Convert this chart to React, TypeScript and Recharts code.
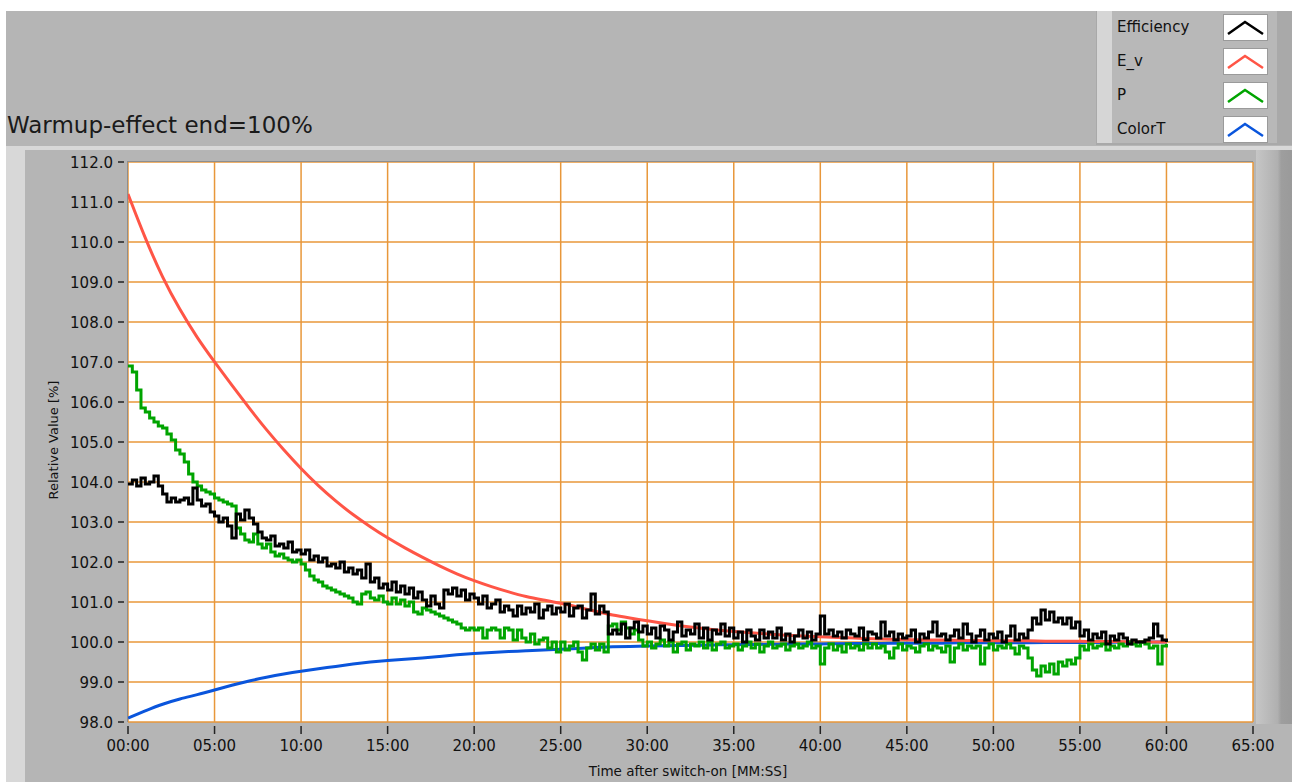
import React from "react";
import { CartesianGrid, Line, LineChart, XAxis, YAxis } from "recharts";

const FONT = "'DejaVu Sans', sans-serif";

const xTicks = [0, 5, 10, 15, 20, 25, 30, 35, 40, 45, 50, 55, 60, 65];
const xTickLabels = [
  "00:00", "05:00", "10:00", "15:00", "20:00", "25:00", "30:00",
  "35:00", "40:00", "45:00", "50:00", "55:00", "60:00", "65:00",
];
const yTicks = [98, 99, 100, 101, 102, 103, 104, 105, 106, 107, 108, 109, 110, 111, 112];

// one reading per minute, 0..60
const minuteTimes = [
  0, 1, 2, 3, 4, 5, 6, 7, 8, 9, 10, 11, 12, 13, 14, 15, 16, 17, 18, 19, 20,
  21, 22, 23, 24, 25, 26, 27, 28, 29, 30, 31, 32, 33, 34, 35, 36, 37, 38, 39, 40,
  41, 42, 43, 44, 45, 46, 47, 48, 49, 50, 51, 52, 53, 54, 55, 56, 57, 58, 59, 60,
];

const evValues = [
  111.2, 110.08, 109.1, 108.3, 107.6, 107.0, 106.42, 105.85, 105.3, 104.8, 104.33,
  103.9, 103.52, 103.18, 102.88, 102.6, 102.35, 102.12, 101.9, 101.7, 101.53,
  101.38, 101.25, 101.13, 101.05, 100.97, 100.87, 100.77, 100.67, 100.6, 100.53,
  100.46, 100.4, 100.35, 100.3, 100.26, 100.23, 100.2, 100.17, 100.15, 100.13,
  100.11, 100.1, 100.08, 100.07, 100.06, 100.05, 100.05, 100.04, 100.04, 100.03,
  100.03, 100.03, 100.02, 100.02, 100.02, 100.01, 100.01, 100.01, 100.0, 100.0,
];

const colorTValues = [
  98.1, 98.28, 98.45, 98.58, 98.68, 98.8, 98.92, 99.03, 99.12, 99.2, 99.27,
  99.33, 99.39, 99.45, 99.5, 99.54, 99.57, 99.6, 99.64, 99.68, 99.71,
  99.74, 99.76, 99.78, 99.8, 99.82, 99.84, 99.86, 99.88, 99.89, 99.9,
  99.91, 99.91, 99.92, 99.93, 99.93, 99.94, 99.94, 99.95, 99.95, 99.95,
  99.96, 99.96, 99.96, 99.97, 99.97, 99.97, 99.97, 99.98, 99.98, 99.98,
  99.98, 99.98, 99.99, 99.99, 99.99, 99.99, 99.99, 100.0, 100.0, 100.0,
];

// four readings per minute, 0..60
const SAMPLES_PER_MIN = 4;

const efficiencyValues = [
  103.95, 104.05, 103.9, 104.1, 103.95, 104.0, 104.15, 103.9, 103.7, 103.5, 103.6, 103.5,
  103.55, 103.6, 103.45, 103.85, 103.55, 103.4, 103.45, 103.25, 103.15, 103.0, 103.1, 102.9,
  102.6, 103.2, 103.05, 103.3, 103.1, 102.95, 102.75, 102.6, 102.55, 102.65, 102.4, 102.45,
  102.35, 102.5, 102.25, 102.3, 102.2, 102.3, 102.05, 102.15, 102.0, 102.1, 101.9, 101.95,
  101.85, 102.0, 101.75, 101.85, 101.7, 101.8, 101.6, 101.95, 101.5, 101.6, 101.35, 101.45,
  101.3, 101.5, 101.25, 101.4, 101.2, 101.35, 101.1, 101.25, 101.05, 100.9, 101.15, 100.95,
  100.85, 101.3, 101.2, 101.35, 101.15, 101.3, 101.05, 101.2, 101.1, 100.95, 101.15, 100.85,
  100.95, 101.05, 100.75, 100.9, 100.8, 100.65, 100.9, 100.7, 100.85, 100.75, 100.95, 100.6,
  100.8, 100.9, 100.7, 100.85, 100.75, 100.95, 100.65, 100.85, 100.9, 100.6, 100.8, 101.2,
  100.7, 100.9, 100.75, 100.2, 100.3, 100.2, 100.45, 100.1, 100.35, 100.5, 100.25, 100.4,
  100.2, 100.35, 100.1, 100.4, 100.3, 100.05, 100.25, 100.5, 100.15, 100.3, 100.2, 100.45,
  100.1, 100.35, 100.05, 100.3, 100.2, 100.45, 100.15, 100.35, 100.1, 100.25, 100.0, 100.3,
  100.15, 100.05, 100.3, 100.1, 100.25, 100.1, 100.35, 100.05, 100.2, 100.0, 100.15, 100.3,
  100.1, 100.25, 100.05, 100.2, 100.65, 100.2, 100.3, 100.15, 100.25, 100.1, 100.3, 100.2,
  100.15, 100.35, 100.05, 100.25, 100.2, 100.1, 100.5, 100.15, 100.25, 100.05, 100.2, 100.1,
  100.15, 100.3, 100.0, 100.2, 100.1, 100.25, 100.5, 100.15, 100.2, 100.05, 100.15, 100.3,
  100.1, 100.45, 100.2, 100.0, 100.15, 100.3, 100.05, 100.2, 100.1, 100.25, 100.0, 100.15,
  100.4, 100.05, 100.2, 100.1, 100.3, 100.6, 100.45, 100.8, 100.55, 100.75, 100.5, 100.6,
  100.45, 100.6, 100.35, 100.5, 100.15, 100.3, 100.05, 100.2, 100.1, 100.25, 99.95, 100.15,
  100.05, 100.2, 100.1, 99.95, 100.05, 100.0, 100.0, 100.05, 100.1, 100.45, 100.15, 100.05,
  100.0,
];

const pValues = [
  106.9, 106.75, 106.3, 105.85, 105.75, 105.6, 105.5, 105.4, 105.35, 105.2, 105.05, 104.8,
  104.7, 104.5, 104.2, 104.0, 103.9, 103.8, 103.75, 103.7, 103.6, 103.55, 103.5, 103.45,
  103.4, 102.85, 102.7, 102.55, 102.5, 102.7, 102.45, 102.35, 102.45, 102.25, 102.15, 102.2,
  102.1, 102.05, 102.0, 102.05, 101.95, 101.8, 101.65, 101.55, 101.5, 101.4, 101.35, 101.3,
  101.25, 101.2, 101.15, 101.1, 101.0, 100.95, 101.2, 101.25, 101.1, 101.05, 101.15, 101.0,
  100.95, 101.1, 100.95, 101.05, 100.9, 101.0, 100.75, 100.7, 100.85, 100.8, 100.75, 100.7,
  100.65, 100.6, 100.55, 100.5, 100.45, 100.35, 100.3, 100.35, 100.3, 100.35, 100.1, 100.3,
  100.35, 100.3, 100.1, 100.35, 100.3, 100.05, 100.3, 100.1, 100.0, 100.2, 99.95, 100.05,
  100.1, 99.85, 100.0, 99.75, 100.0, 99.8, 99.9, 100.0, 99.75, 99.55, 99.85, 99.95,
  99.8, 99.95, 99.75, 100.4, 100.45, 100.3, 100.5, 100.35, 100.2, 100.3, 100.05, 99.9,
  100.0, 99.85, 99.95, 100.05, 99.9, 100.0, 99.75, 99.95, 100.0, 99.8, 99.95, 99.9,
  100.0, 99.85, 100.0, 99.8, 99.95, 100.0, 99.85, 99.9, 99.95, 99.8, 99.9, 100.0,
  99.85, 99.95, 99.75, 99.9, 100.0, 99.85, 99.9, 99.95, 99.8, 99.9, 99.95, 99.85,
  99.9, 100.0, 99.85, 99.9, 99.45, 99.85, 99.95, 99.8, 99.9, 99.75, 99.95, 99.85,
  99.9, 99.8, 99.95, 99.85, 99.95, 99.85, 99.9, 99.75, 99.6, 99.85, 99.95, 99.8,
  99.9, 99.85, 99.75, 99.9, 99.95, 99.8, 99.9, 99.85, 99.75, 99.9, 99.5, 99.85,
  99.95, 99.8, 99.9, 99.85, 99.9, 99.45, 99.85, 99.95, 99.8, 99.9, 99.85, 99.95,
  99.85, 99.7, 99.9, 99.85, 99.6, 99.3, 99.15, 99.4, 99.25, 99.45, 99.2, 99.5,
  99.4, 99.55, 99.45, 99.6, 99.9, 99.8, 99.95, 99.85, 99.9, 99.95, 99.8, 99.9,
  99.85, 99.95, 99.9, 100.0, 99.95, 99.9, 100.0, 99.95, 99.85, 99.9, 99.45, 99.9,
  99.95,
];

const legendNames = ["Efficiency", "E_v", "P", "ColorT"];
const legendColors = ["#000000", "#ff5546", "#00a400", "#0a55dc"];

const byMinute = (values: number[]) =>
  values.map((v, i) => ({ t: minuteTimes[i], v }));
const bySample = (values: number[]) =>
  values.map((v, i) => ({ t: i / SAMPLES_PER_MIN, v }));

const evData = byMinute(evValues);
const colorTData = byMinute(colorTValues);
const efficiencyData = bySample(efficiencyValues);
const pData = bySample(pValues);

const PLOT_LEFT = 128;
const PLOT_TOP = 162;
const PLOT_RIGHT = 1253;
const PLOT_BOTTOM = 722;

function XTick(props: any) {
  const { x, payload } = props;
  const label = xTickLabels[xTicks.indexOf(payload.value)];
  return (
    <g>
      <line x1={x} x2={x} y1={PLOT_BOTTOM + 4} y2={PLOT_BOTTOM + 12} stroke="#222" strokeWidth={1.5} />
      <text x={x} y={PLOT_BOTTOM + 29} textAnchor="middle" fontFamily={FONT} fontSize={15} fill="#111">
        {label}
      </text>
    </g>
  );
}

function YTick(props: any) {
  const { y, payload } = props;
  return (
    <g>
      <line x1={PLOT_LEFT - 10} x2={PLOT_LEFT - 4} y1={y} y2={y} stroke="#222" strokeWidth={1.5} />
      <text x={PLOT_LEFT - 15} y={y + 6} textAnchor="end" fontFamily={FONT} fontSize={15} fill="#111">
        {payload.value.toFixed(1)}
      </text>
    </g>
  );
}

function LegendSwatch({ color }: { color: string }) {
  return (
    <svg width={45} height={27} style={{ display: "block" }}>
      <rect x={0.5} y={0.5} width={44} height={26} fill="#fff" stroke="#9a9a9a" />
      <polyline points="5,20 22,8 40,20" fill="none" stroke={color} strokeWidth={2.5} />
    </svg>
  );
}

const abs = (style: React.CSSProperties): React.CSSProperties => ({ position: "absolute", ...style });

export default function App() {
  return (
    <div style={abs({ left: 0, top: 0, width: 1292, height: 782, background: "#fff", overflow: "hidden", fontFamily: FONT })}>
      {/* panels */}
      <div style={abs({ left: 6, top: 11, width: 1286, height: 771, background: "#b5b5b5" })} />
      <div style={abs({ left: 6, top: 146, width: 1286, height: 4, background: "#d8d8d8" })} />
      <div style={abs({ left: 6, top: 146, width: 19, height: 636, background: "#d8d8d8" })} />
      <div
        style={abs({
          left: 1256,
          top: 150,
          width: 36,
          height: 574,
          background: "linear-gradient(to right, #c6c6c6, #b0b0b0 60%, #9e9e9e 70%, #9a9a9a)",
        })}
      />

      {/* title */}
      <div style={abs({ left: 7, top: 112, fontSize: 23, color: "#1a1a1a", whiteSpace: "nowrap" })}>
        Warmup-effect end=100%
      </div>

      {/* legend */}
      <div style={abs({ left: 1096, top: 11, width: 196, height: 134, background: "#a9a9a9" })} />
      <div style={abs({ left: 1097, top: 11, width: 15, height: 132, background: "#d6d6d6" })} />
      <div style={abs({ left: 1112, top: 11, width: 165, height: 132, background: "#b8b8b8" })} />
      {legendNames.map((name, i) => (
        <React.Fragment key={name}>
          <div style={abs({ left: 1117, top: 18 + i * 34, fontSize: 15, color: "#111", whiteSpace: "nowrap" })}>
            {name}
          </div>
          <div style={abs({ left: 1223, top: 14 + i * 34 })}>
            <LegendSwatch color={legendColors[i]} />
          </div>
        </React.Fragment>
      ))}

      {/* chart */}
      <div style={abs({ left: 0, top: 0 })}>
        <LineChart
          width={1292}
          height={782}
          margin={{ top: PLOT_TOP, right: 1292 - PLOT_RIGHT, bottom: 0, left: PLOT_LEFT - 100 }}
        >
          <CartesianGrid fill="#ffffff" stroke="#e8973a" strokeWidth={1.5} />
          <XAxis
            dataKey="t"
            type="number"
            domain={[0, 65]}
            ticks={xTicks}
            allowDataOverflow
            height={782 - PLOT_BOTTOM}
            axisLine={false}
            tickLine={false}
            tickSize={0}
            tickMargin={0}
            interval={0}
            tick={<XTick />}
          />
          <YAxis
            type="number"
            domain={[98, 112]}
            ticks={yTicks}
            allowDataOverflow
            width={100}
            axisLine={false}
            tickLine={false}
            tickSize={0}
            tickMargin={0}
            interval={0}
            tick={<YTick />}
          />
          <Line data={colorTData} dataKey="v" type="basis" stroke={legendColors[3]} strokeWidth={3} dot={false} isAnimationActive={false} />
          <Line data={evData} dataKey="v" type="basis" stroke={legendColors[1]} strokeWidth={3} dot={false} isAnimationActive={false} />
          <Line data={pData} dataKey="v" type="stepAfter" stroke={legendColors[2]} strokeWidth={3} dot={false} isAnimationActive={false} />
          <Line data={efficiencyData} dataKey="v" type="stepAfter" stroke={legendColors[0]} strokeWidth={3} dot={false} isAnimationActive={false} />
        </LineChart>
      </div>

      {/* plot border */}
      <div style={abs({ left: PLOT_LEFT - 1, top: PLOT_TOP - 1, width: PLOT_RIGHT - PLOT_LEFT + 1, height: 1, background: "#8e8e8e" })} />
      <div style={abs({ left: PLOT_LEFT - 1, top: PLOT_TOP - 1, width: 1, height: PLOT_BOTTOM - PLOT_TOP + 1, background: "#8e8e8e" })} />

      {/* axis titles */}
      <div
        style={abs({
          left: 53,
          top: 440,
          fontSize: 13,
          color: "#111",
          whiteSpace: "nowrap",
          transform: "translate(-50%, -50%) rotate(-90deg)",
        })}
      >
        Relative Value [%]
      </div>
      <div style={abs({ left: 688, top: 771, fontSize: 13.5, color: "#111", whiteSpace: "nowrap", transform: "translate(-50%, -50%)" })}>
        Time after switch-on [MM:SS]
      </div>
    </div>
  );
}
